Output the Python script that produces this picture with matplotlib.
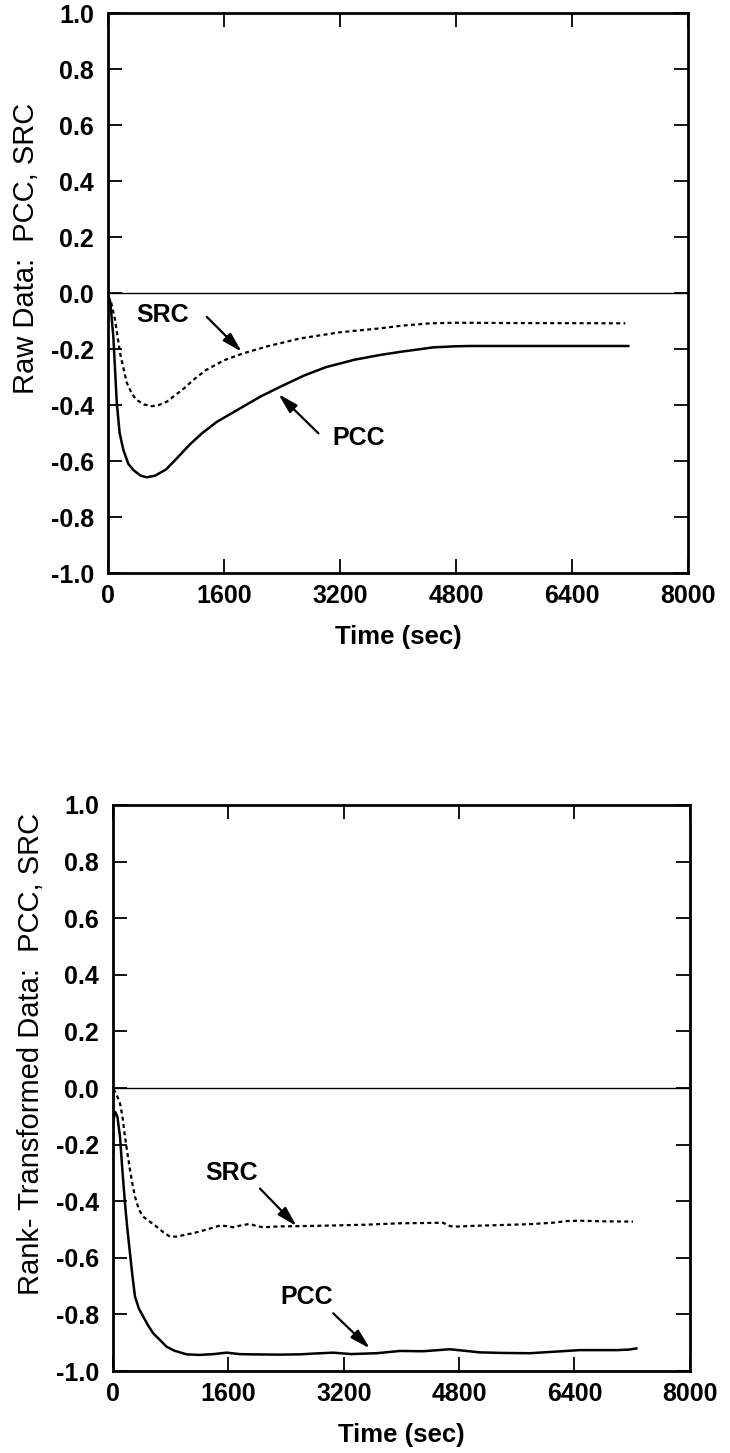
import matplotlib
matplotlib.use("Agg")
import matplotlib.pyplot as plt

plt.rcParams['font.family'] = ['Liberation Sans', 'DejaVu Sans']

# tick values / labels
x_ticks = [0, 1600, 3200, 4800, 6400, 8000]
x_tick_labels = ["0", "1600", "3200", "4800", "6400", "8000"]
y_ticks = [-1.0, -0.8, -0.6, -0.4, -0.2, 0.0, 0.2, 0.4, 0.6, 0.8, 1.0]
y_tick_labels = ["-1.0", "-0.8", "-0.6", "-0.4", "-0.2", "0.0", "0.2", "0.4", "0.6", "0.8", "1.0"]

# raw data panel
raw_pcc_t = [0, 30, 73, 120, 160, 211, 280, 349, 450, 534, 650, 800, 950, 1131, 1300,
             1500, 1800, 2100, 2373, 2700, 3000, 3400, 3754, 4030, 4485, 4800, 5000, 6000, 7176]
raw_pcc_v = [-0.01, -0.03, -0.156, -0.39, -0.50, -0.56, -0.61, -0.632, -0.652, -0.658, -0.652,
             -0.63, -0.59, -0.54, -0.50, -0.46, -0.415, -0.37, -0.335, -0.295, -0.265, -0.238,
             -0.221, -0.21, -0.194, -0.19, -0.189, -0.189, -0.189]
raw_src_t = [0, 40, 97, 166, 258, 330, 396, 500, 603, 700, 810, 950, 1050, 1177, 1350,
             1600, 1867, 2200, 2650, 3200, 3754, 4030, 4444, 4800, 5500, 7135]
raw_src_v = [-0.01, -0.03, -0.096, -0.215, -0.32, -0.36, -0.382, -0.398, -0.404, -0.40, -0.388,
             -0.36, -0.34, -0.31, -0.275, -0.24, -0.215, -0.19, -0.162, -0.14, -0.126, -0.117,
             -0.108, -0.106, -0.107, -0.108]

# rank-transformed panel
rank_pcc_t = [0, 30, 60, 97, 130, 166, 200, 236, 270, 305, 360, 420, 490, 558, 650, 743, 850,
              1020, 1206, 1400, 1576, 1750, 1899, 2300, 2592, 2800, 3053, 3300, 3654, 3978,
              4300, 4671, 5087, 5400, 5780, 6100, 6473, 7000, 7166, 7258]
rank_pcc_v = [-0.12, -0.085, -0.10, -0.172, -0.29, -0.407, -0.50, -0.585, -0.665, -0.737, -0.78,
              -0.808, -0.84, -0.867, -0.89, -0.914, -0.928, -0.941, -0.943, -0.94, -0.935, -0.94,
              -0.941, -0.942, -0.941, -0.938, -0.935, -0.94, -0.937, -0.929, -0.93, -0.923,
              -0.934, -0.936, -0.937, -0.932, -0.926, -0.926, -0.924, -0.92]
rank_src_t = [0, 28, 60, 97, 130, 166, 200, 236, 270, 305, 360, 420, 500, 605, 700, 790, 900,
              1000, 1113, 1300, 1483, 1580, 1668, 1780, 1899, 1990, 2083, 2300, 2592, 3000,
              3500, 3978, 4300, 4578, 4650, 4717, 5000, 5400, 5780, 6100, 6300, 6473, 6800, 7212]
rank_src_v = [-0.005, -0.013, -0.03, -0.054, -0.10, -0.172, -0.23, -0.29, -0.34, -0.384, -0.43,
              -0.455, -0.47, -0.49, -0.51, -0.525, -0.525, -0.518, -0.513, -0.50, -0.486, -0.488,
              -0.492, -0.485, -0.48, -0.488, -0.492, -0.489, -0.488, -0.486, -0.483, -0.478,
              -0.477, -0.476, -0.486, -0.49, -0.487, -0.484, -0.481, -0.476, -0.47, -0.469,
              -0.471, -0.472]

# labels: (text pos), (arrow tail), (arrow tip)
raw_notes = [("SRC", (759, -0.079), (1362, -0.085), (1845, -0.21)),
             ("PCC", (3454, -0.519), (2902, -0.501), (2350, -0.361))]
rank_notes = [("SRC", (1645, -0.30), (2037, -0.355), (2546, -0.488)),
              ("PCC", (2685, -0.737), (3054, -0.796), (3562, -0.92))]


def draw_panel(ax, pcc_t, pcc_v, src_t, src_v, notes, ylabel, ylab_y):
    ax.plot(pcc_t, pcc_v, color='black', lw=1.8)
    ax.plot(src_t, src_v, color='black', lw=1.6, linestyle=(0, (1.8, 1.5)))
    ax.axhline(0.0, color='black', lw=1.0)
    for txt, tpos, tail, tip in notes:
        ax.text(tpos[0], tpos[1], txt, fontsize=18, fontweight='bold',
                ha='center', va='center')
        ax.annotate('', xy=tip, xytext=tail,
                    arrowprops=dict(arrowstyle='-|>,head_length=0.8,head_width=0.22',
                                    mutation_scale=15, lw=1.6, color='black',
                                    shrinkA=0, shrinkB=0))
    ax.set_xlim(0, 8000)
    ax.set_ylim(-1.0, 1.0)
    ax.set_xticks(x_ticks)
    ax.set_xticklabels(x_tick_labels, fontweight='bold')
    ax.set_yticks(y_ticks)
    ax.set_yticklabels(y_tick_labels, fontweight='bold')
    ax.tick_params(direction='in', length=10, width=1.3, top=True, right=True,
                   labelsize=18)
    ax.tick_params(axis='y', pad=10)
    ax.tick_params(axis='x', pad=8)
    for s in ax.spines.values():
        s.set_linewidth(2.0)
    ax.set_xlabel("Time (sec)", fontsize=18.5, fontweight='bold', labelpad=12)
    ax.set_ylabel(ylabel, fontsize=21)
    ax.yaxis.set_label_coords(-0.118, ylab_y)


fig = plt.figure(figsize=(7.3, 14.53), dpi=100)
ax1 = fig.add_axes([0.148, 0.6056, 0.7945, 0.3854])
ax2 = fig.add_axes([0.1548, 0.0564, 0.7902, 0.3896])

draw_panel(ax1, raw_pcc_t, raw_pcc_v, raw_src_t, raw_src_v, raw_notes,
           "Raw Data:  PCC, SRC", 0.58)
draw_panel(ax2, rank_pcc_t, rank_pcc_v, rank_src_t, rank_src_v, rank_notes,
           "Rank- Transformed Data:  PCC, SRC", 0.56)

fig.savefig("out.png", dpi=100)
